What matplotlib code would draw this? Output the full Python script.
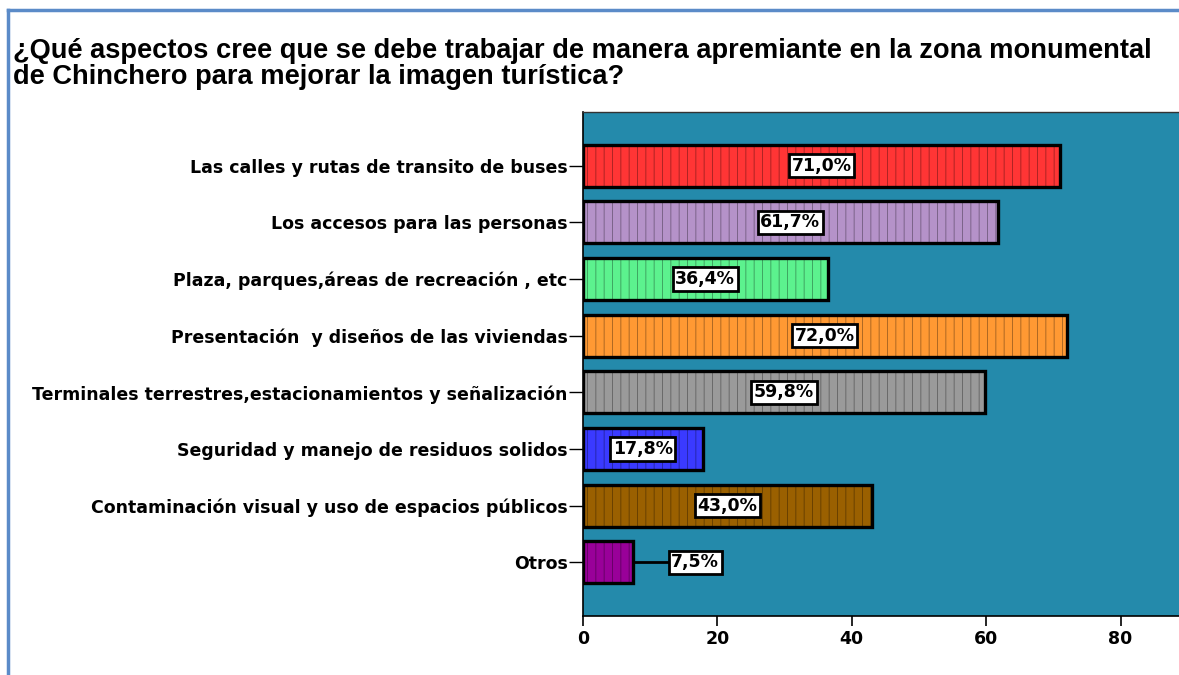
import matplotlib
matplotlib.use('Agg')
import matplotlib.pyplot as plt
from matplotlib import font_manager
from matplotlib.colors import to_rgb

categorias = ['Las calles y rutas de transito de buses',
              'Los accesos para las personas',
              'Plaza, parques,áreas de recreación , etc',
              'Presentación  y diseños de las viviendas',
              'Terminales terrestres,estacionamientos y señalización',
              'Seguridad y manejo de residuos solidos',
              'Contaminación visual y uso de espacios públicos',
              'Otros']
porcentajes = [71.0, 61.7, 36.4, 72.0, 59.8, 17.8, 43.0, 7.5]
colores = ['#ff3535', '#b592c9', '#5cf28e', '#ff9933', '#9a9a9a', '#3a3aff', '#9a6000', '#990099']
etiquetas = ['71,0%', '61,7%', '36,4%', '72,0%', '59,8%', '17,8%', '43,0%', '7,5%']
titulo = ('¿Qué aspectos cree que se debe trabajar de manera apremiante en la zona monumental\n'
          'de Chinchero para mejorar la imagen turística?')

# fuente estrecha si existe
nombres = {f.name for f in font_manager.fontManager.ttflist}
if 'Liberation Sans Narrow' in nombres:
    narrow, fs = ['Liberation Sans Narrow', 'DejaVu Sans'], 14.5
elif 'DejaVu Sans Condensed' in nombres:
    narrow, fs = ['DejaVu Sans Condensed', 'DejaVu Sans'], 13.5
else:
    narrow, fs = ['DejaVu Sans'], 12.5

plt.rcParams['hatch.linewidth'] = 0.7

fig = plt.figure(figsize=(11.79, 6.75), dpi=100)
ax = fig.add_axes([583/1179, 1 - 616/675, 1 - 583/1179, (616 - 112)/675])
ax.set_facecolor('#248aab')

pos = list(range(len(categorias)))
for i, v in enumerate(porcentajes):
    oscuro = tuple(c * 0.68 for c in to_rgb(colores[i]))
    ax.barh(i, v, height=0.74, color=colores[i], edgecolor=oscuro, linewidth=0,
            hatch='||', zorder=2)
    ax.barh(i, v, height=0.74, color='none', edgecolor='black', linewidth=2.4, zorder=3)

for i, v in enumerate(porcentajes):
    if v > 12:
        xt = v / 2
    else:
        xt = v + 9.2
        ax.plot([v, xt - 3], [i, i], color='black', lw=2, zorder=3)
    ax.text(xt, i, etiquetas[i], ha='center', va='center', fontsize=fs,
            fontweight='bold', family=narrow, zorder=4,
            bbox=dict(boxstyle='square,pad=0.15', fc='white', ec='black', lw=2))

ax.set_ylim(7.95, -0.95)
ax.set_xlim(0, 88.7)
ax.set_yticks(pos)
ax.set_yticklabels(categorias, fontsize=fs, fontweight='bold', family=narrow)
ax.set_xticks([0, 20, 40, 60, 80])
ax.set_xticklabels(['0', '20', '40', '60', '80'], fontsize=fs, fontweight='bold', family=narrow)
ax.tick_params(axis='y', length=10, width=1, pad=1)
ax.tick_params(axis='x', length=7, width=1.2, pad=3)
ax.spines['right'].set_visible(False)
ax.spines['top'].set_linewidth(1)
ax.spines['top'].set_color('#333333')
ax.spines['left'].set_linewidth(1.2)
ax.spines['bottom'].set_linewidth(1.2)

fig.text(13/1179, 1 - 38/675, titulo, ha='left', va='top', fontsize=19.6,
         fontweight='bold', family=['Liberation Sans', 'DejaVu Sans'], linespacing=0.98)

# marco azul de la captura
fig.add_artist(plt.Line2D([8/1179, 1], [1 - 10/675, 1 - 10/675], color='#5b8bc8', lw=2.5))
fig.add_artist(plt.Line2D([8/1179, 8/1179], [0, 1 - 10/675], color='#5b8bc8', lw=2.5))

fig.savefig('out.png', dpi=100)
